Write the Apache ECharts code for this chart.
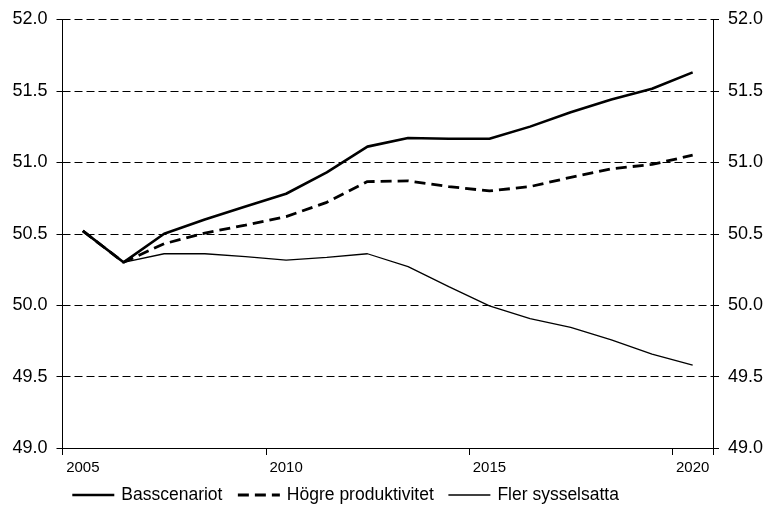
<!DOCTYPE html>
<html>
<head>
<meta charset="utf-8">
<script src="https://cdn.jsdelivr.net/npm/echarts@6/dist/echarts.min.js"></script>
<style>
  html, body { margin: 0; padding: 0; background: #fff; }
  #chart { width: 767px; height: 507px; }
</style>
</head>
<body>
<div id="chart"></div>
<script>
// Years on the horizontal axis
const years = ['2005','2006','2007','2008','2009','2010','2011','2012',
               '2013','2014','2015','2016','2017','2018','2019','2020'];

// Scenario series (percent)
const basscenariot = [50.52, 50.30, 50.50, 50.60, 50.69, 50.78, 50.93, 51.11,
                      51.17, 51.165, 51.165, 51.25, 51.35, 51.44, 51.515, 51.63];
const hogreProduktivitet = [50.52, 50.30, 50.43, 50.505, 50.56, 50.62, 50.72, 50.865,
                            50.87, 50.83, 50.80, 50.83, 50.895, 50.955, 50.985, 51.05];
const flerSysselsatta = [50.52, 50.30, 50.36, 50.36, 50.34, 50.315, 50.335, 50.36,
                         50.27, 50.13, 49.995, 49.905, 49.845, 49.757, 49.658, 49.58];

// Value axis range
const yMin = 49.0, yMax = 52.0, yStep = 0.5;

const FONT = 'Arial, "Liberation Sans", sans-serif';

// Line styles shared by each series and its legend entry
const styleBas = { color: '#000', width: 2.6, type: 'solid' };
const styleHogre = { color: '#000', width: 2.8, type: [11, 6] };
const styleFler = { color: '#000', width: 1.3, type: 'solid' };

function valueAxis(position, withGrid) {
  return {
    type: 'value',
    position: position,
    min: yMin, max: yMax, interval: yStep,
    axisLine: { show: true, lineStyle: { color: '#000', width: 1 } },
    axisTick: { show: true, length: 6, lineStyle: { color: '#000' } },
    axisLabel: {
      color: '#000', fontSize: 18, fontFamily: FONT, margin: 15,
      formatter: v => v.toFixed(1)
    },
    splitLine: withGrid
      ? { show: true, lineStyle: { color: '#000', width: 1, type: [8, 4] } }
      : { show: false }
  };
}

const chart = echarts.init(document.getElementById('chart'), null, { renderer: 'canvas' });
chart.setOption({
  animation: false,
  backgroundColor: '#fff',
  grid: { left: 62.5, right: 54, top: 19.5, bottom: 59, containLabel: false },
  legend: {
    left: 66, top: 481,
    itemWidth: 42, itemHeight: 17, itemGap: 14,
    itemStyle: { opacity: 0 },
    textStyle: { color: '#000', fontSize: 17.5, fontFamily: FONT, padding: [0, 0, 0, 2] },
    data: [
      { name: 'Basscenariot', lineStyle: styleBas },
      { name: 'Högre produktivitet', lineStyle: styleHogre },
      { name: 'Fler sysselsatta', lineStyle: styleFler }
    ]
  },
  xAxis: {
    type: 'category',
    data: years,
    boundaryGap: true,
    axisLine: { lineStyle: { color: '#000', width: 1 } },
    axisTick: { show: true, interval: 4, alignWithLabel: false, length: 7, lineStyle: { color: '#000' } },
    axisLabel: { interval: 4, color: '#000', fontSize: 15, fontFamily: FONT, margin: 12 },
    splitLine: { show: false }
  },
  yAxis: [valueAxis('left', true), valueAxis('right', false)],
  series: [
    {
      name: 'Basscenariot', type: 'line', data: basscenariot,
      symbol: 'none', color: '#000', lineStyle: styleBas, z: 3
    },
    {
      name: 'Högre produktivitet', type: 'line', data: hogreProduktivitet,
      symbol: 'none', color: '#000', lineStyle: styleHogre, z: 2
    },
    {
      name: 'Fler sysselsatta', type: 'line', data: flerSysselsatta,
      symbol: 'none', color: '#000', lineStyle: styleFler, z: 4
    }
  ]
});
</script>
</body>
</html>
